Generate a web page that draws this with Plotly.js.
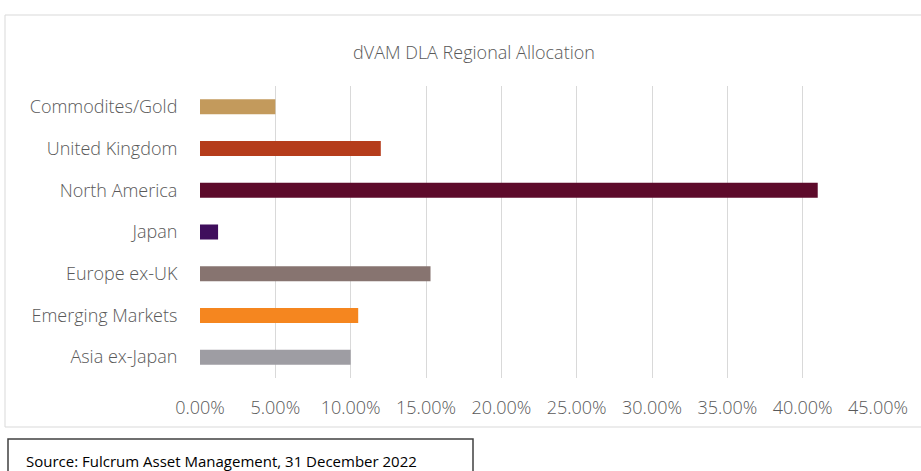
<!DOCTYPE html>
<html>
<head>
<meta charset="utf-8">
<script src="https://cdn.plot.ly/plotly-3.0.1.min.js"></script>
<style>html,body{margin:0;padding:0;background:#fff;}#chart{width:921px;height:471px;}</style>
</head>
<body>
<div id="chart"></div>
<script>
// Categories listed top to bottom as shown
const categories = ["Commodites/Gold", "United Kingdom", "North America", "Japan", "Europe ex-UK", "Emerging Markets", "Asia ex-Japan"];
const allocation = [0.050, 0.120, 0.410, 0.012, 0.153, 0.105, 0.100];
const barColors = ["#C39A5C", "#B53C1B", "#5D0B2B", "#3F0E5C", "#877470", "#F5861F", "#9E9DA3"];
const xTicks = [0, 0.05, 0.10, 0.15, 0.20, 0.25, 0.30, 0.35, 0.40, 0.45];
const chartTitle = "dVAM DLA Regional Allocation";
const sourceText = "Source: Fulcrum Asset Management, 31 December 2022";

const W = 921, H = 471;
const L = 200, R = 43, T = 86, B = 93;
const pw = W - L - R, ph = H - T - B;
const px = v => (v - L) / pw;
const py = v => (H - B - v) / ph;

const fontFam = "'Open Sans', 'Noto Sans', sans-serif";
const trace = {
  type: "bar",
  orientation: "h",
  x: allocation,
  y: categories,
  width: 0.36,
  marker: {color: barColors, line: {width: 0}},
  hoverinfo: "x+y"
};

const layout = {
  width: W, height: H,
  margin: {l: L, r: R, t: T, b: B, pad: 0},
  paper_bgcolor: "#ffffff",
  plot_bgcolor: "#ffffff",
  showlegend: false,
  title: {
    text: chartTitle,
    font: {family: fontFam, size: 18, weight: 300, color: "#595959"},
    x: 474 / W, xanchor: "center",
    y: 1 - 53 / H, yanchor: "middle",
    xref: "container", yref: "container"
  },
  xaxis: {
    range: [0, 0.45],
    tickvals: xTicks,
    tickformat: ".2%",
    showgrid: true,
    gridcolor: "#D9D9D9",
    gridwidth: 1,
    zeroline: false,
    showline: false,
    ticks: "outside",
    ticklen: 13,
    tickcolor: "rgba(0,0,0,0)",
    tickfont: {family: fontFam, size: 18, weight: 300, color: "#595959"},
    fixedrange: true
  },
  yaxis: {
    type: "category",
    autorange: "reversed",
    showgrid: false,
    zeroline: false,
    showline: false,
    ticks: "outside",
    ticklen: 18,
    tickcolor: "rgba(0,0,0,0)",
    tickfont: {family: fontFam, size: 18, weight: 300, color: "#595959"},
    fixedrange: true
  },
  shapes: [
    {type: "rect", xref: "paper", yref: "paper",
     x0: px(5), x1: px(930), y0: py(427), y1: py(15),
     line: {color: "#D9D9D9", width: 1}, fillcolor: "rgba(0,0,0,0)", layer: "below"},
    {type: "rect", xref: "paper", yref: "paper",
     x0: px(8), x1: px(473), y0: py(480), y1: py(439),
     line: {color: "#404040", width: 1.5}, fillcolor: "rgba(0,0,0,0)"}
  ],
  annotations: [
    {text: sourceText, xref: "paper", yref: "paper",
     x: px(24), y: py(461), xanchor: "left", yanchor: "middle",
     showarrow: false, font: {family: fontFam, size: 15, color: "#000000"}}
  ]
};

Plotly.newPlot("chart", [trace], layout, {displayModeBar: false, staticPlot: true});
</script>
</body>
</html>
